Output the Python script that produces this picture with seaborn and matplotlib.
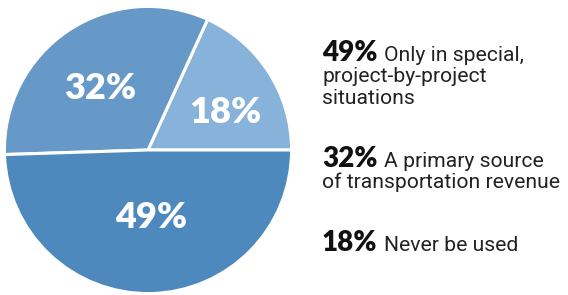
"""
Pie chart of survey answers with a text legend on the right.
"""

import matplotlib
matplotlib.use("Agg")
import matplotlib.pyplot as plt
import numpy as np
import seaborn as sns

# Chart data (pie order: counter-clockwise from 3 o'clock)
shares = [18, 32, 49]
answers = ["Never be used",
           "A primary source\nof transportation revenue",
           "Only in special,\nproject-by-project\nsituations"]
colors = ["#87b2d9", "#6699c7", "#4e89bd"]

# Legend order on the right (top to bottom)
legend_order = [2, 1, 0]


def main():
    sns.set_theme(style="white")
    plt.rcParams["font.family"] = ["Roboto", "DejaVu Sans"]

    fig = plt.figure(figsize=(5.68, 2.95), dpi=100)
    ax = fig.add_axes([3 / 568, 0, 290 / 568, 290 / 295])

    total = sum(shares)
    wedges, _, autotexts = ax.pie(
        shares, colors=colors, startangle=0, counterclock=True,
        autopct=lambda p: f"{round(p * total / 100)}%",
        wedgeprops=dict(edgecolor="white", linewidth=2.2),
        textprops=dict(color="white", fontsize=26, fontweight="heavy",
                       family=["Lato", "DejaVu Sans"]))
    ax.set_aspect("equal")
    ax.set_xlim(-1.01, 1.01)
    ax.set_ylim(-1.01, 1.01)

    # Nudge percent labels toward where they sit in the original
    label_r = [0.6, 0.54, 0.47]
    label_da = [-7, 4, 2]
    for t, w, r, da in zip(autotexts, wedges, label_r, label_da):
        ang = np.deg2rad((w.theta1 + w.theta2) / 2 + da)
        t.set_position((r * np.cos(ang), r * np.sin(ang)))
        t.set_va("center")
        t.set_ha("center")

    # Right-hand text legend
    x0 = 322 / 568
    baselines = [61, 167, 251]
    line_h = 21.3
    fig.canvas.draw()
    renderer = fig.canvas.get_renderer()
    for idx, base in zip(legend_order, baselines):
        y = 1 - base / 295
        bold = fig.text(x0, y, f"{shares[idx]}%", fontsize=20,
                        fontweight="heavy", family=["Lato", "DejaVu Sans"],
                        color="#111111", va="baseline", ha="left")
        x1 = bold.get_window_extent(renderer).x1
        lines = answers[idx].split("\n")
        fig.text((x1 + 6) / 568, y, lines[0], fontsize=15.2,
                 color="#222222", va="baseline", ha="left")
        for k, line in enumerate(lines[1:], start=1):
            fig.text(x0, 1 - (base + k * line_h) / 295, line, fontsize=15.2,
                     color="#222222", va="baseline", ha="left")

    fig.savefig("out.png", dpi=100)


if __name__ == "__main__":
    main()
